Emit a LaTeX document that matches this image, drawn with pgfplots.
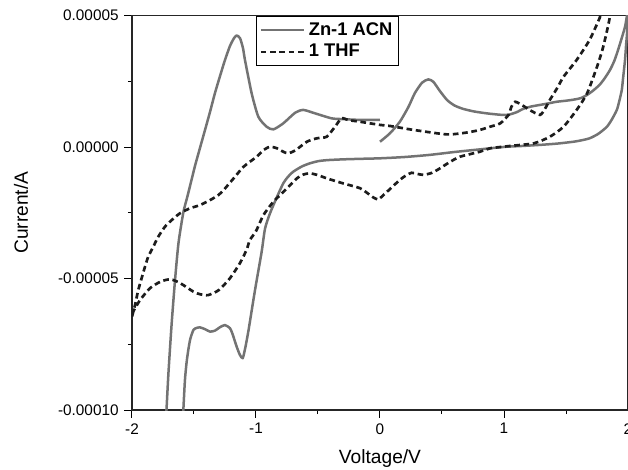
\documentclass[border=0pt]{standalone}
\usepackage{pgfplots}
\pgfplotsset{compat=1.18}
\usepackage{fontspec}
\setmainfont{Liberation Sans}
\definecolor{solidgray}{RGB}{115,115,115}
\definecolor{dashblack}{RGB}{28,28,28}
\begin{document}
\begin{tikzpicture}
\begin{axis}[
  scale only axis, width=297.6pt, height=236.7pt,
  xmin=-2, xmax=2, ymin=-0.0001, ymax=0.00005,
  xtick={-2,-1,0,1,2}, minor xtick={-1.5,-0.5,0.5,1.5},
  ytick={-0.0001,-0.00005,0,0.00005}, minor ytick={-0.000075,-0.000025,0.000025},
  scaled y ticks=false,
  yticklabel style={/pgf/number format/.cd, fixed, fixed zerofill, precision=5, assume math mode=true},
  xticklabel style={/pgf/number format/assume math mode=true},
  tick align=outside, tick pos=left, major tick length=4.5pt, minor tick length=2.5pt,
  tick style={line width=0.6pt, black},
  axis line style={line width=0.7pt, black!85},
  tick label style={font=\fontsize{9.2}{11}\selectfont},
  xlabel={Voltage/V}, ylabel={Current/A},
  every axis x label/.style={at={(axis description cs:0.5,0)}, anchor=center, yshift=-29.4pt, font=\fontsize{11.5}{13}\selectfont},
  every axis y label/.style={at={(axis description cs:-0.2235,0.5)}, rotate=90, anchor=center, font=\fontsize{11.5}{13}\selectfont},
  legend style={at={(rel axis cs:0.25,1)}, anchor=north west, draw=black, line width=0.6pt,
    font=\fontsize{11}{13}\selectfont\bfseries, inner sep=1.8pt, row sep=0pt,
    cells={anchor=west}},
  legend image code/.code={\draw[#1] (0pt,0pt) -- (26pt,0pt);},
  clip=true,
]
\addplot[solidgray, line width=1.5pt, smooth, tension=0.4, line join=round] coordinates {
(0.00,0.20e-5)(0.08,0.52e-5)(0.16,0.96e-5)(0.23,1.53e-5)(0.28,2.04e-5)(0.34,2.45e-5)
(0.39,2.57e-5)(0.43,2.48e-5)(0.48,2.15e-5)(0.54,1.79e-5)(0.60,1.58e-5)(0.67,1.45e-5)
(0.76,1.35e-5)(0.86,1.28e-5)(0.96,1.23e-5)(1.03,1.22e-5)(1.10,1.32e-5)(1.155,1.45e-5)
(1.22,1.54e-5)(1.29,1.60e-5)(1.36,1.66e-5)(1.425,1.72e-5)(1.50,1.76e-5)(1.56,1.80e-5)
(1.62,1.86e-5)(1.67,1.98e-5)(1.72,2.15e-5)(1.77,2.36e-5)(1.81,2.60e-5)(1.855,2.93e-5)
(1.89,3.28e-5)(1.92,3.69e-5)(1.95,4.15e-5)(1.976,4.57e-5)(1.99,4.95e-5)(2.00,5.3e-5)
(1.995,4.5e-5)(1.985,3.9e-5)(1.976,3.31e-5)(1.96,2.6e-5)(1.95,2.17e-5)(1.93,1.75e-5)
(1.91,1.41e-5)(1.87,1.05e-5)(1.83,0.77e-5)(1.76,0.50e-5)(1.69,0.33e-5)(1.62,0.25e-5)
(1.56,0.20e-5)(1.43,0.13e-5)(1.29,0.08e-5)(1.15,0.04e-5)(1.02,0.01e-5)(0.887,-0.05e-5)
(0.806,-0.09e-5)(0.60,-0.19e-5)(0.40,-0.30e-5)(0.20,-0.38e-5)(0.00,-0.43e-5)(-0.16,-0.45e-5)
(-0.30,-0.47e-5)(-0.43,-0.50e-5)(-0.50,-0.54e-5)(-0.565,-0.62e-5)(-0.63,-0.74e-5)(-0.70,-0.94e-5)
(-0.745,-1.15e-5)(-0.78,-1.38e-5)(-0.83,-1.89e-5)(-0.887,-2.52e-5)(-0.927,-3.1e-5)(-0.955,-4.0e-5)
(-1.008,-5.44e-5)(-1.06,-6.96e-5)(-1.085,-7.6e-5)(-1.107,-8.03e-5)(-1.13,-7.9e-5)(-1.156,-7.59e-5)
(-1.19,-7.1e-5)(-1.21,-6.89e-5)(-1.25,-6.77e-5)(-1.29,-6.85e-5)(-1.33,-6.98e-5)(-1.37,-7.02e-5)
(-1.41,-6.93e-5)(-1.45,-6.86e-5)(-1.48,-6.88e-5)(-1.505,-6.96e-5)(-1.53,-7.3e-5)(-1.546,-7.72e-5)
(-1.56,-8.2e-5)(-1.573,-8.86e-5)(-1.586,-10.0e-5)(-1.60,-11.3e-5)(-1.66,-12.5e-5)(-1.735,-11.0e-5)
(-1.722,-10.0e-5)(-1.706,-8.59e-5)(-1.681,-6.77e-5)(-1.653,-5.06e-5)(-1.625,-3.65e-5)(-1.586,-2.49e-5)
(-1.552,-1.86e-5)(-1.524,-1.33e-5)(-1.492,-0.72e-5)(-1.452,-0.04e-5)(-1.411,0.65e-5)(-1.371,1.33e-5)
(-1.331,2.05e-5)(-1.290,2.70e-5)(-1.250,3.31e-5)(-1.210,3.84e-5)(-1.177,4.14e-5)(-1.156,4.24e-5)
(-1.129,4.14e-5)(-1.105,3.76e-5)(-1.089,3.31e-5)
(-1.035,2.04e-5)(-0.981,1.15e-5)(-0.914,0.77e-5)(-0.86,0.67e-5)(-0.78,0.90e-5)(-0.685,1.30e-5)
(-0.619,1.41e-5)(-0.524,1.28e-5)(-0.39,1.09e-5)(-0.30,1.06e-5)(-0.16,1.03e-5)(0.00,1.03e-5)
};
\addlegendentry{Zn-1 ACN}
\addplot[dashblack, line width=1.6pt, smooth, tension=0.4, dash pattern=on 3.4pt off 2.2pt] coordinates {
(-2.00,-6.45e-5)(-1.975,-6.00e-5)(-1.950,-5.45e-5)(-1.920,-4.95e-5)(-1.895,-4.55e-5)(-1.869,-4.17e-5)
(-1.828,-3.79e-5)(-1.788,-3.41e-5)(-1.734,-3.03e-5)(-1.680,-2.78e-5)(-1.613,-2.52e-5)(-1.532,-2.33e-5)
(-1.452,-2.21e-5)(-1.371,-2.02e-5)(-1.304,-1.83e-5)(-1.26,-1.63e-5)(-1.18,-1.19e-5)(-1.10,-0.75e-5)
(-0.995,-0.37e-5)(-0.94,-0.12e-5)(-0.887,0.01e-5)(-0.83,-0.05e-5)(-0.78,-0.18e-5)(-0.74,-0.24e-5)
(-0.68,-0.12e-5)(-0.59,0.20e-5)(-0.51,0.33e-5)(-0.43,0.39e-5)(-0.363,0.77e-5)(-0.31,1.09e-5)
(-0.25,1.02e-5)(-0.16,0.96e-5)(0.00,0.84e-5)(0.08,0.80e-5)(0.27,0.65e-5)(0.54,0.48e-5)
(0.70,0.55e-5)(0.806,0.65e-5)(0.887,0.77e-5)(0.97,0.90e-5)(1.036,1.22e-5)(1.06,1.53e-5)
(1.09,1.72e-5)(1.15,1.58e-5)(1.21,1.40e-5)(1.29,1.22e-5)(1.33,1.45e-5)(1.37,1.79e-5)
(1.43,2.25e-5)(1.48,2.67e-5)(1.586,3.31e-5)(1.69,4.07e-5)(1.77,4.89e-5)(1.79,5.2e-5)
(1.82,5.8e-5)(1.845,5.8e-5)(1.855,5.0e-5)(1.80,3.81e-5)(1.75,3.05e-5)(1.67,2.04e-5)
(1.586,1.41e-5)(1.48,0.77e-5)(1.37,0.39e-5)(1.24,0.14e-5)(1.05,0.04e-5)(0.887,-0.05e-5)
(0.806,-0.18e-5)(0.645,-0.37e-5)(0.56,-0.58e-5)(0.484,-0.81e-5)(0.42,-0.98e-5)(0.35,-1.06e-5)
(0.30,-1.02e-5)(0.255,-0.98e-5)(0.21,-1.08e-5)(0.16,-1.25e-5)(0.08,-1.60e-5)(0.00,-1.95e-5)
(-0.013,-2.0e-5)(-0.05,-1.93e-5)(-0.08,-1.83e-5)(-0.16,-1.57e-5)(-0.30,-1.38e-5)(-0.43,-1.19e-5)
(-0.50,-1.07e-5)(-0.565,-1.00e-5)(-0.62,-1.05e-5)(-0.67,-1.19e-5)(-0.75,-1.57e-5)(-0.81,-1.85e-5)
(-0.86,-2.08e-5)(-0.94,-2.59e-5)(-1.00,-3.2e-5)(-1.05,-3.54e-5)(-1.075,-3.9e-5)(-1.13,-4.42e-5)
(-1.21,-4.99e-5)(-1.30,-5.44e-5)(-1.385,-5.63e-5)(-1.45,-5.60e-5)(-1.505,-5.50e-5)(-1.61,-5.18e-5)
(-1.69,-5.03e-5)(-1.77,-5.12e-5)(-1.855,-5.37e-5)(-1.935,-5.82e-5)(-1.99,-6.26e-5)(-2.00,-6.45e-5)
};
\addlegendentry{1 THF}
\end{axis}
\pgfresetboundingbox
\useasboundingbox (-79.2pt,-35.4pt) rectangle (297.6pt,246pt);
\end{tikzpicture}
\end{document}
